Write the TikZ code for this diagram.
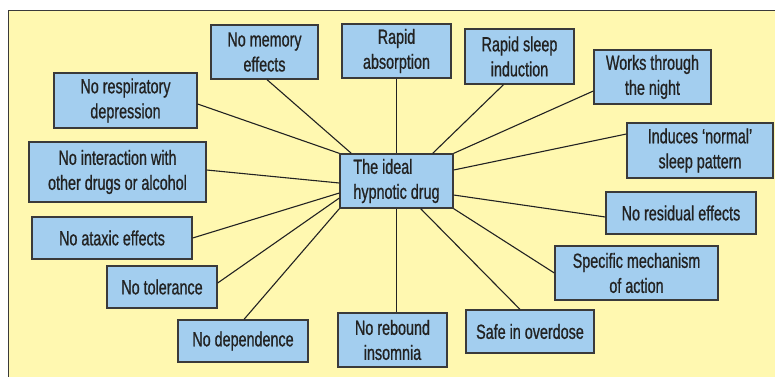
\documentclass[tikz,border=0pt]{standalone}
\usepackage{fontspec}
\setmainfont[FakeStretch=0.70,FakeBold=0.8]{Liberation Sans}
\definecolor{panelbg}{HTML}{FFF8B0}
\definecolor{boxfill}{HTML}{A3CEEF}
\definecolor{boxline}{HTML}{3A3A3A}
\definecolor{inkcol}{HTML}{222222}
\tikzset{
  idea/.style={draw=boxline, line width=1.3pt, fill=boxfill, rectangle, inner sep=0pt,
    align=center, text=inkcol, font=\fontsize{20.5}{25}\selectfont},
  link/.style={draw=inkcol, line width=1.1pt},
}
\begin{document}
\begin{tikzpicture}[x=1pt,y=1pt]
\useasboundingbox (0,0) rectangle (775,-376);
\clip (0,0) rectangle (775,-376);
\fill[white] (0,0) rectangle (775,-376);
\fill[panelbg] (8.5,-10.5) rectangle (790,-390);
\draw[boxline, line width=1.3pt] (8.5,-390) -- (8.5,-10.5) -- (790,-10.5);

\node[idea, minimum width=113pt, minimum height=54pt, align=left] (c) at (396.5,-181) {The ideal\\hypnotic drug};

\node[idea, minimum width=107pt, minimum height=54pt] (mem) at (264.5,-52) {No memory\\effects};
\node[idea, minimum width=109pt, minimum height=54pt] (abs) at (396.5,-51) {Rapid\\absorption};
\node[idea, minimum width=109pt, minimum height=55pt] (sleep) at (519.5,-56.5) {Rapid sleep\\induction};
\node[idea, minimum width=117pt, minimum height=54pt] (works) at (652.5,-77) {Works through\\the night};
\node[idea, minimum width=146pt, minimum height=55pt] (induces) at (700,-150.5) {Induces ‘normal’\\sleep pattern};
\node[idea, minimum width=150pt, minimum height=42pt] (resid) at (681,-213) {No residual effects};
\node[idea, minimum width=163pt, minimum height=54pt] (spec) at (636.5,-273) {Specific mechanism\\of action};
\node[idea, minimum width=128pt, minimum height=43pt] (safe) at (530,-331.5) {Safe in overdose};
\node[idea, minimum width=109pt, minimum height=54pt] (rebound) at (392.5,-340) {No rebound\\insomnia};
\node[idea, minimum width=130pt, minimum height=42pt] (dep) at (243,-341) {No dependence};
\node[idea, minimum width=110pt, minimum height=42pt] (tol) at (162,-287) {No tolerance};
\node[idea, minimum width=160pt, minimum height=42pt] (atax) at (112,-238) {No ataxic effects};
\node[idea, minimum width=177pt, minimum height=60pt] (inter) at (117.5,-172) {No interaction with\\other drugs or alcohol};
\node[idea, minimum width=143pt, minimum height=55pt] (resp) at (125.5,-100.5) {No respiratory\\depression};

\draw[link] ([xshift=2.5pt]mem.south) -- ([xshift=12pt]c.north west);
\draw[link] ([yshift=-3.5pt]resp.east) -- (c.north west);
\draw[link] ([yshift=2pt]inter.east) -- ([yshift=-2pt]c.west);
\draw[link] (atax.east) -- ([yshift=-12pt]c.west);
\draw[link] ([yshift=4pt]tol.east) -- ([yshift=-17pt]c.west);
\draw[link] ([xshift=1pt]dep.north) -- (c.south west);
\draw[link] (abs.south) -- (c.north);
\draw[link] ([xshift=-16pt]sleep.south) -- ([xshift=-21pt]c.north east);
\draw[link] ([yshift=-14pt]works.west) -- (c.north east);
\draw[link] ([yshift=16.5pt]induces.west) -- ([yshift=11pt]c.east);
\draw[link] ([yshift=-4pt]resid.west) -- ([yshift=-14pt]c.east);
\draw[link] (spec.west) -- (c.south east);
\draw[link] ([xshift=-10pt]safe.north) -- ([xshift=-33pt]c.south east);
\draw[link] (c.south) -- (c.south |- rebound.north);
\end{tikzpicture}
\end{document}
